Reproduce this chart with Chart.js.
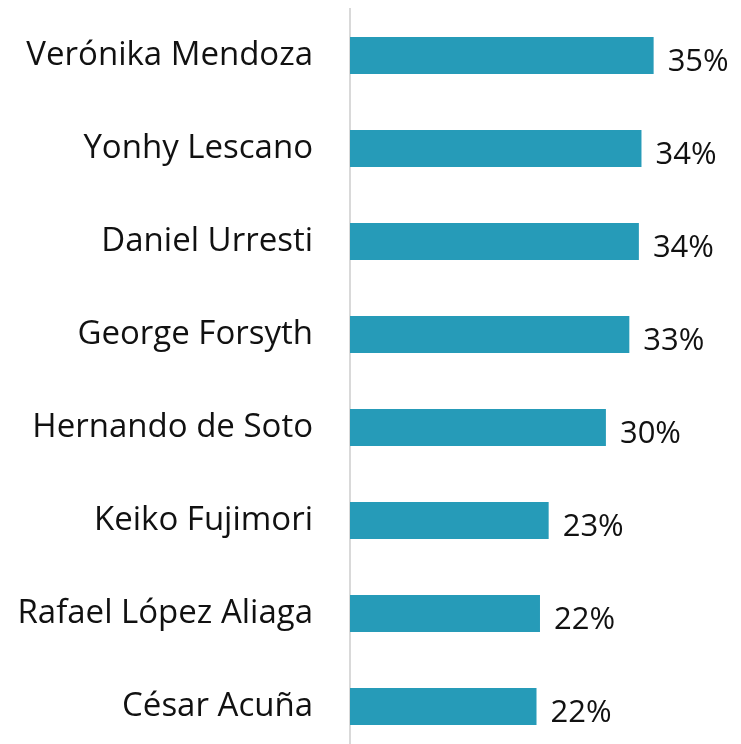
<!DOCTYPE html>
<html>
<head>
<meta charset="utf-8">
<script src="https://cdn.jsdelivr.net/npm/chart.js@4"></script>
<style>
  html, body { margin: 0; padding: 0; background: #fff; overflow: hidden; }
</style>
</head>
<body>
<canvas id="bars" width="741" height="753"></canvas>
<script>
const candidates = ['Verónika Mendoza', 'Yonhy Lescano', 'Daniel Urresti', 'George Forsyth',
  'Hernando de Soto', 'Keiko Fujimori', 'Rafael López Aliaga', 'César Acuña'];
// bar lengths (percent)
const shares = [35.0, 33.6, 33.3, 32.2, 29.5, 22.9, 21.9, 21.5];
// the percentages printed next to each bar
const shareLabels = ['35%', '34%', '34%', '33%', '30%', '23%', '22%', '22%'];

const FONT = '"Open Sans", Lato, sans-serif';

const valueLabels = {
  id: 'valueLabels',
  afterDatasetsDraw(chart) {
    const ctx = chart.ctx;
    const meta = chart.getDatasetMeta(0);
    ctx.save();
    ctx.font = '31px ' + FONT;
    ctx.fillStyle = '#111';
    ctx.textAlign = 'left';
    ctx.textBaseline = 'middle';
    meta.data.forEach(function(bar, i) {
      ctx.fillText(shareLabels[i], bar.x + 14, bar.y + 7);
    });
    ctx.restore();
  }
};

document.addEventListener('DOMContentLoaded', function() {
  const ctx = document.getElementById('bars').getContext('2d');
  new Chart(ctx, {
    type: 'bar',
    data: {
      labels: candidates,
      datasets: [{
        data: shares,
        backgroundColor: '#269bb8',
        barPercentage: 0.4,
        categoryPercentage: 1
      }]
    },
    options: {
      indexAxis: 'y',
      responsive: false,
      animation: false,
      layout: { padding: { top: 9, right: 44, bottom: 0, left: 0 } },
      plugins: {
        legend: { display: false },
        tooltip: { enabled: false }
      },
      scales: {
        x: {
          display: false,
          min: 0,
          max: 40
        },
        y: {
          afterFit(scale) {
            scale.width = 350;
            scale.paddingTop = 0;
            scale.paddingBottom = 0;
          },
          grid: { display: false, drawTicks: false },
          border: { display: true, color: '#d9d9d9', width: 2 },
          ticks: {
            padding: 37,
            color: '#111',
            autoSkip: false,
            font: { family: FONT, size: 33 }
          }
        }
      }
    },
    plugins: [valueLabels]
  });
});
</script>
</body>
</html>
